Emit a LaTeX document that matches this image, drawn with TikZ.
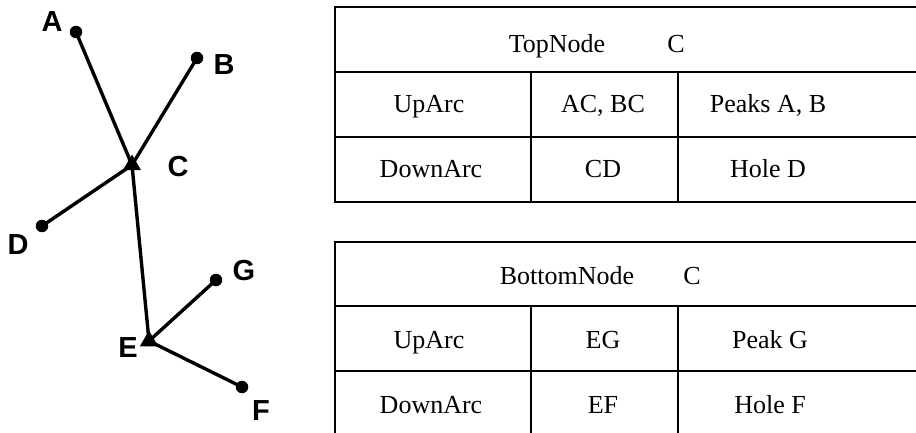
\documentclass[tikz,border=0pt]{standalone}
\usepackage{fontspec}
\setmainfont{Liberation Serif}
\newfontfamily\labelfont{Liberation Sans}
\usetikzlibrary{positioning,shapes.geometric}

\tikzset{
    dot/.style={circle,fill=black,inner sep=0pt,minimum size=12.5pt},
    tri/.style={regular polygon,regular polygon sides=3,fill=black,inner sep=0pt,minimum size=21pt},
    ptlabel/.style={font=\labelfont\bfseries\fontsize{29}{31}\selectfont,inner sep=0pt},
    cell/.style={anchor=base,inner sep=0pt,font=\fontsize{26}{30}\selectfont},
    edge/.style={line width=3.4pt},
    grid/.style={line width=1.7pt}
}

\begin{document}
\begin{tikzpicture}[x=1pt,y=-1pt]
\useasboundingbox (0,0) rectangle (916,433);

% points of the graph
\foreach \name/\x/\y in {A/76/32, B/197/58, D/42/226, G/216/280, F/242/387} {
    \node[dot] (\name) at (\x,\y) {};
}
\node[tri] (C) at (132,165) {};
\node[tri] (E) at (149,341) {};

\foreach \name/\x/\y in {A/52/22, B/224/65, C/178/167, D/18/245, G/244/271, E/128/348, F/261/411} {
    \node[ptlabel] (lab\name) at (\x,\y) {\name};
}

\foreach \from/\to in {A/C, B/C, D/C, C/E, G/E, F/E} {
    \draw[edge] (\from.center) -- (\to.center);
}

% top table
\draw[grid] (916,7) -- (335,7) -- (335,202) -- (916,202);
\draw[grid] (335,72) -- (916,72);
\draw[grid] (335,137) -- (916,137);
\draw[grid] (531,72) -- (531,202);
\draw[grid] (678,72) -- (678,202);
\node[cell] (toptitle) at (557,53) {TopNode};
\node[cell] (topc) at (676,53) {C};
\node[cell] (topup) at (429,113) {UpArc};
\node[cell] (toparcs) at (603,113) {AC, BC};
\node[cell] (toppeaks) at (768,113) {Peaks A, B};
\node[cell] (topdown) at (431,178) {DownArc};
\node[cell] (topcd) at (603,178) {CD};
\node[cell] (tophole) at (768,178) {Hole D};

% bottom table
\draw[grid] (916,242) -- (335,242) -- (335,433);
\draw[grid] (335,306) -- (916,306);
\draw[grid] (335,371) -- (916,371);
\draw[grid] (531,306) -- (531,433);
\draw[grid] (678,306) -- (678,433);
\node[cell] (bottitle) at (567,284) {BottomNode};
\node[cell] (botc) at (692,284) {C};
\node[cell] (botup) at (429,348) {UpArc};
\node[cell] (boteg) at (603,348) {EG};
\node[cell] (botpeak) at (770,348) {Peak G};
\node[cell] (botdown) at (431,413) {DownArc};
\node[cell] (botef) at (603,413) {EF};
\node[cell] (bothole) at (770,413) {Hole F};
\end{tikzpicture}
\end{document}
